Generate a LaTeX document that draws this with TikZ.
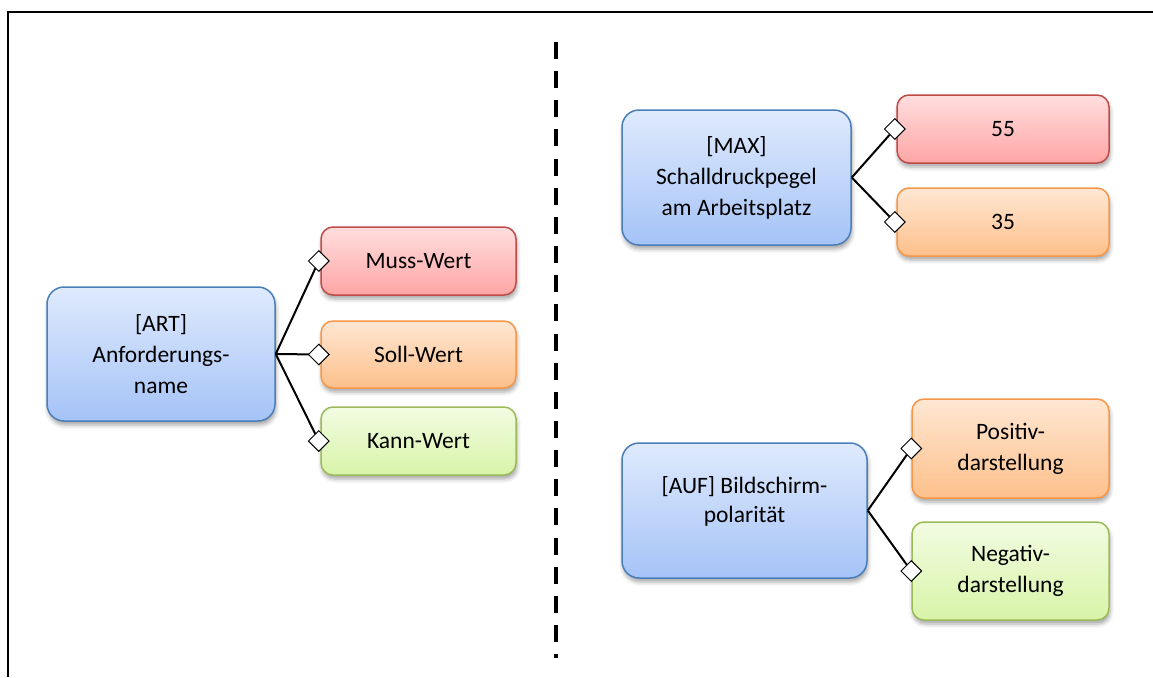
\documentclass[tikz,border=0pt]{standalone}
\usepackage{fontspec}
\setmainfont{Carlito}
\usetikzlibrary{shapes.geometric,shadows.blur}

\definecolor{blueline}{HTML}{4A7EBB}
\definecolor{bluetop}{HTML}{DFEAFD}
\definecolor{bluebot}{HTML}{A5C3F7}
\definecolor{redline}{HTML}{BE4B48}
\definecolor{redtop}{HTML}{FFDEDE}
\definecolor{redbot}{HTML}{FFA5A5}
\definecolor{orgline}{HTML}{F79646}
\definecolor{orgtop}{HTML}{FFE7D3}
\definecolor{orgbot}{HTML}{FDC08B}
\definecolor{grnline}{HTML}{9BBB59}
\definecolor{grntop}{HTML}{F2FCE2}
\definecolor{grnbot}{HTML}{D8F4A8}

\tikzset{
  box/.style={draw, line width=1.5pt, rounded corners=12pt, align=center,
    inner sep=0pt, font=\fontsize{23.5}{31}\selectfont,
    blur shadow={shadow xshift=1pt, shadow yshift=-4pt,
      shadow blur radius=4pt, shadow opacity=35}},
  bluebox/.style={box, rounded corners=17pt, draw=blueline,
    top color=bluetop, bottom color=bluebot},
  redbox/.style={box, draw=redline, top color=redtop, bottom color=redbot},
  orgbox/.style={box, draw=orgline, top color=orgtop, bottom color=orgbot},
  grnbox/.style={box, draw=grnline, top color=grntop, bottom color=grnbot},
  tip/.style={diamond, draw, fill=white, line width=1pt,
    minimum width=21pt, minimum height=21pt, inner sep=0pt},
  link/.style={line width=2pt},
  frameline/.style={line width=2pt},
  divider/.style={line width=4pt, dash pattern=on 17pt off 12.15pt},
}

\begin{document}
\begin{tikzpicture}[x=1pt, y=-1pt]
\useasboundingbox (0,0) rectangle (1153,677);

% frame and divider
\coordinate (frameright) at (1153,12.5);
\coordinate (framecorner) at (8,12.5);
\coordinate (framebottom) at (8,677);
\draw[frameline] (frameright) -- (framecorner) -- (framebottom);
\coordinate (divtop) at (556,42);
\coordinate (divbot) at (556,658);
\draw[divider] (divtop) -- (divbot);

% left: generic requirement
\node[bluebox, minimum width=228pt, minimum height=134pt] (art) at (161,354)
  {[ART]\\Anforderungs-\\name};
\node[redbox, minimum width=195pt, minimum height=68pt] (muss) at (418.5,261) {Muss-Wert};
\node[orgbox, minimum width=195pt, minimum height=67pt] (soll) at (418.5,354.5) {Soll-Wert};
\node[grnbox, minimum width=195pt, minimum height=68pt] (kann) at (418.5,441) {Kann-Wert};

% right top: sound pressure level
\node[bluebox, minimum width=229pt, minimum height=135pt] (max) at (736.5,177.5)
  {[MAX]\\Schalldruckpegel\\am Arbeitsplatz};
\node[redbox, minimum width=212pt, minimum height=68pt] (v55) at (1003,129) {55};
\node[orgbox, minimum width=212pt, minimum height=68pt] (v35) at (1003,222) {35};

% right bottom: screen polarity
\node[bluebox, minimum width=245pt, minimum height=135pt] (auf) at (744.5,510.5) {};
\node[font=\fontsize{23.5}{29}\selectfont, align=center, inner sep=0pt] (auftext)
  at (744.5,501) {[AUF] Bildschirm-\\polarität};
\node[orgbox, minimum width=197pt, minimum height=99pt] (pos) at (1010.5,448.5)
  {Positiv-\\darstellung};
\node[grnbox, minimum width=197pt, minimum height=98pt] (neg) at (1010.5,571)
  {Negativ-\\darstellung};

% marker positions on the left edges of the value boxes
\coordinate (cmuss) at ([xshift=-1.5pt]muss.west);
\coordinate (csoll) at ([xshift=-1.5pt]soll.west);
\coordinate (ckann) at ([xshift=-1.5pt]kann.west);
\coordinate (c55) at ([xshift=-1.5pt]v55.west);
\coordinate (c35) at ([xshift=-1.5pt]v35.west);
\coordinate (cpos) at (pos.west);
\coordinate (cneg) at (neg.west);

% connectors
\draw[link] (art.east) -- (cmuss);
\draw[link] (art.east) -- (csoll);
\draw[link] (art.east) -- (ckann);
\draw[link] (max.east) -- (c55);
\draw[link] (max.east) -- (c35);
\draw[link] (auf.east) -- (cpos);
\draw[link] (auf.east) -- (cneg);

% diamond end markers over the line ends
\node[tip] (dmuss) at (cmuss) {};
\node[tip] (dsoll) at (csoll) {};
\node[tip] (dkann) at (ckann) {};
\node[tip] (d55) at (c55) {};
\node[tip] (d35) at (c35) {};
\node[tip] (dpos) at (cpos) {};
\node[tip] (dneg) at (cneg) {};
\end{tikzpicture}
\end{document}
